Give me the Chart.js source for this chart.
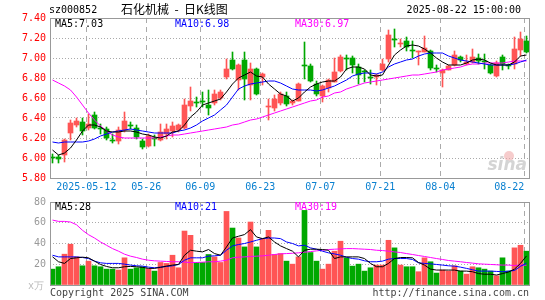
<!DOCTYPE html>
<html>
<head>
<meta charset="utf-8">
<script src="https://cdn.jsdelivr.net/npm/chart.js@4.4.1/dist/chart.umd.min.js"></script>
<style>
  body { margin: 0; width: 545px; height: 300px; background: #fff; position: relative; overflow: hidden;
         font-family: 'DejaVu Sans Mono', monospace; font-size: 10px; }
  .t { position: absolute; white-space: pre; line-height: 12px; }
  canvas { position: absolute; left: 0; }
</style>
</head>
<body>
<canvas id="priceChart" width="545" height="195" style="top:0"></canvas>
<canvas id="volChart" width="545" height="110" style="top:190px"></canvas>

<div class="t" style="left:49px;top:4px;">sz000852</div>
<div class="t" style="left:121px;top:2px;font-family:'Noto Sans CJK SC';font-size:12px;line-height:14px;">石化机械  -  日K线图</div>
<div class="t" style="right:24px;top:4px;">2025-08-22 15:00:00</div>

<div class="t" id="pMa5" style="left:55px;top:18px;color:#000"></div>
<div class="t" id="pMa10" style="left:175px;top:18px;color:#0000ff"></div>
<div class="t" id="pMa30" style="left:295px;top:18px;color:#ff00ff"></div>

<div class="t" id="vMa5" style="left:55px;top:201px;color:#000"></div>
<div class="t" id="vMa10" style="left:175px;top:201px;color:#0000ff"></div>
<div class="t" id="vMa30" style="left:295px;top:201px;color:#ff00ff"></div>

<div class="t" style="left:28px;top:280px;color:#bbb">x万</div>
<div class="t" style="left:50px;top:287px;color:#444">Copyright 2025 SINA.COM</div>
<div class="t" style="right:16px;top:287px;color:#444">http://finance.sina.com.cn</div>

<script>
// trading days shown (index 0 = 2025-04-29)
const dates = ['04-29','04-30','05-06','05-07','05-08','05-09','05-12','05-13','05-14','05-15',
  '05-16','05-19','05-20','05-21','05-22','05-23','05-26','05-27','05-28','05-29',
  '05-30','06-03','06-04','06-05','06-06','06-09','06-10','06-11','06-12','06-13',
  '06-16','06-17','06-18','06-19','06-20','06-23','06-24','06-25','06-26','06-27',
  '06-30','07-01','07-02','07-03','07-04','07-07','07-08','07-09','07-10','07-11',
  '07-14','07-15','07-16','07-17','07-18','07-21','07-22','07-23','07-24','07-25',
  '07-28','07-29','07-30','07-31','08-01','08-04','08-05','08-06','08-07','08-08',
  '08-11','08-12','08-13','08-14','08-15','08-18','08-19','08-20','08-21','08-22'];

const tickIdx  = [6, 16, 25, 35, 45, 55, 65, 79];
const tickText = ['2025-05-12', '05-26', '06-09', '06-23', '07-07', '07-21', '08-04', '08-22     '];
const priceTicks = [5.8, 6.0, 6.2, 6.4, 6.6, 6.8, 7.0, 7.2, 7.4];
const volTicks = [0, 20, 40, 60, 80];

const openP = [6.01,6.01,6.03,6.25,6.33,6.36,6.30,6.43,6.30,6.29, 6.18,6.17,6.28,6.33,6.30,6.17,6.12,6.20,6.18,6.24,
  6.27,6.28,6.30,6.52,6.56,6.57,6.53,6.55,6.60,6.81, 6.98,6.78,6.98,6.73,6.89,6.81,6.51,6.50,6.55,6.62,
  6.55,6.57,6.93,6.92,6.74,6.62,6.70,6.76,6.87,7.00, 7.00,6.91,6.87,6.81,6.81,6.88,6.99,7.19,7.14,7.17,
  7.08,7.06,7.06,7.07,6.90,6.85,6.88,6.93,7.01,6.94, 6.96,7.00,6.97,6.93,6.82,7.01,6.93,6.94,7.08,7.17];
const highP = [6.04,6.03,6.19,6.38,6.40,6.40,6.44,6.46,6.34,6.31, 6.24,6.31,6.46,6.36,6.33,6.19,6.24,6.23,6.34,6.34,
  6.36,6.34,6.59,6.71,6.61,6.66,6.68,6.68,6.68,6.99, 7.06,6.94,7.06,6.95,6.90,6.85,6.59,6.63,6.66,6.66,
  6.58,6.75,7.16,6.94,6.77,6.73,6.79,7.00,7.03,7.03, 7.02,6.94,6.88,6.88,6.84,6.99,7.28,7.29,7.19,7.21,
  7.17,7.07,7.22,7.08,6.93,6.89,6.93,7.07,7.02,7.03, 7.09,7.04,7.04,6.94,6.97,7.03,6.94,7.21,7.26,7.22];
const lowP = [5.95,5.95,5.96,6.18,6.31,6.23,6.28,6.29,6.24,6.18, 6.15,6.14,6.26,6.29,6.19,6.09,6.11,6.12,6.17,6.19,
  6.21,6.26,6.29,6.47,6.51,6.51,6.43,6.53,6.58,6.79, 6.88,6.68,6.58,6.58,6.63,6.73,6.38,6.47,6.53,6.52,
  6.53,6.57,6.79,6.76,6.62,6.56,6.66,6.76,6.86,6.88, 6.85,6.74,6.76,6.74,6.73,6.87,6.96,7.11,7.11,7.07,
  7.00,6.93,7.06,6.88,6.86,6.71,6.88,6.92,6.96,6.93, 6.95,6.94,6.89,6.84,6.81,6.88,6.89,6.89,7.02,7.05];
const closeP = [6.00,5.99,6.18,6.35,6.37,6.27,6.34,6.30,6.29,6.20, 6.17,6.28,6.37,6.32,6.21,6.11,6.22,6.19,6.26,6.29,
  6.32,6.33,6.53,6.57,6.55,6.56,6.50,6.64,6.66,6.89, 6.89,6.93,6.79,6.89,6.64,6.84,6.52,6.59,6.64,6.54,
  6.57,6.74,6.92,6.77,6.64,6.72,6.78,6.86,7.01,6.99, 6.93,6.83,6.86,6.80,6.83,6.94,7.23,7.18,7.15,7.11,
  7.07,7.07,7.10,6.90,6.89,6.88,6.92,7.03,6.98,6.96, 7.01,6.97,6.96,6.85,6.95,6.94,6.92,7.09,7.19,7.06];

const ma5 = [6.08,6.03,6.05,6.10,6.18,6.27,6.33,6.33,6.31,6.27, 6.26,6.26,6.27,6.27,6.26,6.24,6.23,6.21,6.20,6.22,
  6.26,6.27,6.33,6.41,6.46,6.53,6.55,6.57,6.59,6.66, 6.74,6.80,6.83,6.86,6.82,6.81,6.74,6.69,6.64,6.62,
  6.57,6.60,6.66,6.71,6.74,6.76,6.77,6.77,6.81,6.89, 6.91,6.91,6.89,6.83,6.82,6.83,6.93,7.03,7.08,7.12,
  7.13,7.12,7.09,7.05,7.00,6.96,6.93,6.93,6.93,6.95, 6.98,6.99,6.98,6.95,6.93,6.93,6.93,6.96,7.02,7.03];
const ma10 = [6.16,6.15,6.16,6.16,6.16,6.16,6.17,6.19,6.22,6.24, 6.26,6.27,6.28,6.29,6.28,6.27,6.26,6.25,6.25,6.25,
  6.25,6.27,6.28,6.30,6.33,6.37,6.40,6.43,6.48,6.53, 6.61,6.69,6.72,6.74,6.75,6.76,6.77,6.77,6.75,6.72,
  6.69,6.68,6.68,6.68,6.67,6.68,6.70,6.72,6.75,6.78, 6.82,6.84,6.85,6.85,6.84,6.86,6.91,6.94,6.96,6.98,
  6.99,7.02,7.04,7.05,7.05,7.05,7.02,7.00,6.98,6.97, 6.96,6.95,6.94,6.93,6.93,6.93,6.93,6.94,6.96,6.98];
const ma30 = [6.78,6.75,6.72,6.68,6.61,6.53,6.45,6.38,6.32,6.27, 6.23,6.21,6.20,6.20,6.20,6.20,6.20,6.20,6.21,6.22,
  6.23,6.23,6.24,6.25,6.26,6.27,6.28,6.29,6.30,6.31, 6.33,6.34,6.36,6.38,6.39,6.41,6.43,6.45,6.47,6.49,
  6.51,6.53,6.55,6.57,6.58,6.61,6.62,6.65,6.66,6.69, 6.71,6.73,6.75,6.76,6.77,6.78,6.79,6.80,6.81,6.82,
  6.83,6.83,6.84,6.85,6.86,6.88,6.89,6.90,6.91,6.93, 6.94,6.94,6.95,6.95,6.95,6.95,6.96,6.97,6.97,6.97];

// volume, 10k lots
const volume = [15.3,17.6,29.7,39.3,27.1,18.5,23.0,18.5,17.6,15.3, 15.3,14.4,26.2,15.3,16.6,17.6,15.3,13.4,21.7,20.8,
  28.7,16.6,52.0,47.9,21.7,21.7,29.4,27.1,21.7,70.9, 54.9,45.3,36.7,60.7,36.7,44.7,52.7,29.4,30.3,23.0,
  20.1,27.1,71.9,31.3,23.0,15.3,20.1,32.6,42.2,26.2, 18.2,20.1,13.4,16.6,19.2,19.2,43.1,35.8,19.2,17.6,
  17.6,12.8,26.2,22.4,11.5,14.4,13.4,18.5,13.4,10.5, 17.6,16.6,15.3,13.4,8.9,26.2,13.4,35.8,38.3,32.6];
const volMa5 = [27.2,22.4,20.8,25.5,26.2,26.8,26.2,23.0,19.8,17.9, 16.6,16.6,17.6,17.9,17.6,17.0,16.0,16.0,17.0,18.2,
  19.2,19.8,28.7,33.5,32.6,31.9,34.2,30.3,28.7,36.7, 45.3,47.0,48.6,53.4,46.3,44.7,46.3,41.5,37.7,35.1,
  32.6,27.1,33.5,34.5,34.5,34.2,33.5,25.5,27.1,27.1, 27.1,27.1,25.5,20.8,17.6,17.6,20.8,25.5,26.5,26.5,
  26.2,21.7,19.2,15.3,14.4,14.4,14.4,14.4,13.4,13.4, 12.8,11.0,10.4,10.4,9.6,11.0,12.5,15.3,20.8,28.0];
const volMa10 = [28.7,27.1,27.1,27.1,27.1,26.5,25.5,23.0,21.4,20.8, 20.8,20.8,20.1,19.2,18.5,18.2,17.2,16.6,17.2,17.9,
  18.5,19.8,23.9,26.2,26.2,26.2,27.8,28.1,28.7,33.5, 37.7,39.0,40.0,41.5,43.1,44.7,45.3,45.3,44.7,41.5,
  40.0,37.7,38.3,35.8,34.5,32.6,31.0,30.0,28.7,26.8, 25.5,24.9,23.3,22.4,22.4,23.0,24.9,25.5,25.5,25.5,
  24.6,21.4,20.8,20.4,19.8,19.2,18.5,18.2,17.2,16.0, 14.7,13.4,13.4,13.4,13.1,12.8,13.4,14.0,18.0,21.0];
const volMa30 = [62.6,61.3,61.3,60.7,58.1,52.7,48.5,45.3,41.5,38.3, 35.1,32.6,29.7,27.8,26.5,24.9,23.9,23.3,23.0,22.7,
  22.4,22.4,22.0,21.7,21.7,22.0,22.4,22.4,23.0,23.9, 26.2,26.8,27.1,27.5,27.8,28.1,28.7,29.4,30.0,30.3,
  30.6,31.0,31.6,32.2,32.9,33.5,34.2,34.5,34.8,35.1, 35.1,34.8,34.5,34.2,33.5,33.2,32.6,31.9,31.3,30.3,
  29.4,28.4,27.5,26.5,25.5,24.6,23.6,23.0,22.4,21.7, 21.1,20.4,20.1,19.8,19.5,19.2,19.2,18.8,19.2,19.0];

const UP = '#ff5555', DOWN = '#00a800';
const GRID = '#aaaaaa';
const candleColor = closeP.map((c, i) => c >= openP[i] ? UP : DOWN);
const last = arr => arr[arr.length - 1];

Chart.defaults.font.family = "'DejaVu Sans Mono', monospace";
Chart.defaults.font.size = 10;

// legends
document.getElementById('pMa5').textContent = 'MA5:' + last(ma5).toFixed(2);
document.getElementById('pMa10').textContent = 'MA10:' + last(ma10).toFixed(2);
document.getElementById('pMa30').textContent = 'MA30:' + last(ma30).toFixed(2);
document.getElementById('vMa5').textContent = 'MA5:' + last(volMa5).toFixed(0);
document.getElementById('vMa10').textContent = 'MA10:' + last(volMa10).toFixed(0);
document.getElementById('vMa30').textContent = 'MA30:' + last(volMa30).toFixed(0);

// gray frame around the plot area
const framePlugin = {
    id: 'frame',
    afterDraw(chart) {
        const a = chart.chartArea, ctx = chart.ctx;
        ctx.save();
        ctx.strokeStyle = '#999';
        ctx.lineWidth = 1;
        ctx.strokeRect(a.left + 0.5, a.top + 0.5, a.right - a.left, a.bottom - a.top);
        ctx.restore();
    }
};

// faint sina mark in the corner
const markPlugin = {
    id: 'mark',
    beforeDatasetsDraw(chart) {
        const a = chart.chartArea, ctx = chart.ctx;
        ctx.save();
        ctx.fillStyle = 'rgba(240,170,170,0.6)';
        ctx.beginPath();
        ctx.arc(a.right - 20, a.bottom - 22, 5, 0, Math.PI * 2);
        ctx.fill();
        ctx.fillStyle = '#d4d4d4';
        ctx.font = "italic bold 17px 'DejaVu Sans'";
        ctx.textAlign = 'right';
        ctx.textBaseline = 'alphabetic';
        ctx.fillText('sina', a.right - 2, a.bottom - 8);
        ctx.restore();
    }
};

function lineSet(values, color) {
    return {
        type: 'line',
        data: values.map((v, i) => ({ x: i, y: v })),
        borderColor: color,
        borderWidth: 1,
        pointRadius: 0,
        tension: 0,
        order: 1
    };
}

function xScale(showLabels, height) {
    return {
        type: 'linear',
        min: -0.4167,
        max: 79.4167,
        offset: false,
        afterBuildTicks: s => { s.ticks = tickIdx.map(i => ({ value: i - 0.367 })); },
        ticks: {
            display: showLabels,
            autoSkip: false,
            maxRotation: 0,
            padding: 3,
            color: '#0a80d0',
            callback: (v, k) => tickText[k]
        },
        grid: { color: GRID, drawTicks: false, offset: false },
        border: { display: false, dash: [5, 4] },
        afterFit: s => { s.height = height; s.paddingLeft = 0; s.paddingRight = 0; }
    };
}

// price chart
new Chart(document.getElementById('priceChart'), {
    type: 'bar',
    data: {
        datasets: [
            lineSet(ma5, '#000000'),
            lineSet(ma10, '#0000ff'),
            lineSet(ma30, '#ff00ff'),
            {
                data: openP.map((o, i) => ({ x: i, y: [o, closeP[i]] })),
                backgroundColor: candleColor,
                barThickness: 5,
                minBarLength: 1,
                grouped: false,
                order: 2
            },
            {
                data: lowP.map((l, i) => ({ x: i, y: [l, highP[i]] })),
                backgroundColor: candleColor,
                barThickness: 1,
                grouped: false,
                order: 3
            }
        ]
    },
    options: {
        responsive: false,
        animation: false,
        devicePixelRatio: 1,
        layout: { padding: { top: 18, right: 16, left: 0, bottom: 0 } },
        plugins: { legend: { display: false }, tooltip: { enabled: false } },
        scales: {
            x: xScale(true, 17),
            y: {
                min: 5.8,
                max: 7.4,
                afterBuildTicks: s => { s.ticks = priceTicks.map(v => ({ value: v })); },
                ticks: { color: '#ff0000', padding: 4, callback: v => v.toFixed(2) },
                grid: { color: GRID, drawTicks: false },
                border: { display: false, dash: [1, 2] },
                afterFit: s => { s.width = 50; }
            }
        }
    },
    plugins: [markPlugin, framePlugin]
});

// volume chart
new Chart(document.getElementById('volChart'), {
    type: 'bar',
    data: {
        datasets: [
            lineSet(volMa5, '#000000'),
            lineSet(volMa10, '#0000ff'),
            lineSet(volMa30, '#ff00ff'),
            {
                data: volume.map((v, i) => ({ x: i, y: v })),
                backgroundColor: candleColor,
                barThickness: 5,
                grouped: false,
                order: 2
            }
        ]
    },
    options: {
        responsive: false,
        animation: false,
        devicePixelRatio: 1,
        layout: { padding: { top: 12, right: 16, left: 0, bottom: 15 } },
        plugins: { legend: { display: false }, tooltip: { enabled: false } },
        scales: {
            x: xScale(false, 0),
            y: {
                min: 0,
                max: 80,
                afterBuildTicks: s => { s.ticks = volTicks.map(v => ({ value: v })); },
                ticks: { color: '#999', padding: 4, callback: v => v === 0 ? '' : String(v) },
                grid: { color: GRID, drawTicks: false },
                border: { display: false, dash: [1, 2] },
                afterFit: s => { s.width = 50; }
            }
        }
    },
    plugins: [framePlugin]
});
</script>
</body>
</html>
